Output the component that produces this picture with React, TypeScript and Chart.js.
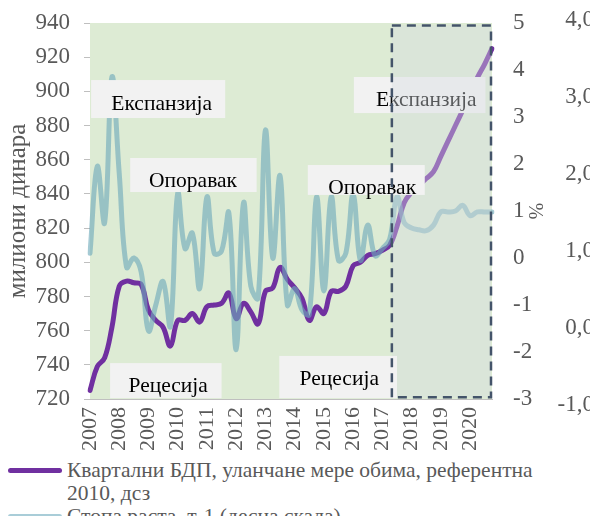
import React, { useEffect, useRef } from 'react';
import { Chart, registerables } from 'chart.js';

Chart.register(...registerables);

// ---------- data ----------
const years = ['2007', '2008', '2009', '2010', '2011', '2012', '2013', '2014', '2015', '2016', '2017', '2018', '2019', '2020'];
const quarterNames = ['Q1', 'Q2', 'Q3', 'Q4'];
const quarterLabels = years.flatMap((y) => quarterNames.map((q) => `${y} ${q}`));

// Quarterly GDP, chained volume, ref. 2010, s.a. (million dinars) - left axis
const gdpValues = [
  725, 739, 744, 762,
  786, 789, 788, 787,
  772, 766, 762, 751,
  766, 766, 770, 765,
  774, 775, 776, 782,
  767, 776, 771, 764,
  783, 785, 797, 790,
  785, 779, 766, 774,
  770, 783, 783, 786,
  798, 800, 804, 805,
  807, 810, 821, 835,
  841, 845, 849, 853,
  862, 871, 880, 889,
  898, 908, 916, 925,
];

// Growth rate q-o-q (%) - right axis
const growthRates = [
  0.1, 1.95, 0.75, 3.85,
  1.8, -0.2, 0.0, -0.3,
  -1.55, -1.0, -0.5, -1.45,
  1.38, 0.2, 0.53, -0.65,
  1.3, 0.1, 0.15, 0.96,
  -1.95, 1.17, -0.6, -0.85,
  2.72, 0.0, 1.75, -1.0,
  -0.65, -1.1, -1.2, 1.3,
  -0.7, 1.3, -0.05, 0.1,
  1.35, -0.05, 0.7, 0.05,
  0.2, 0.4, 1.3, 0.75,
  0.64, 0.6, 0.58, 0.7,
  0.98, 0.98, 1.0, 1.12,
  0.9, 0.98, 0.98, 0.98,
];

const seriesNames = ['Квартални БДП, уланчане мере обима, референтна', '2010, дсз', 'Стопа раста, т-1 (десна скала)'];
const leftAxisTitle = 'милиони динара';
const rightAxisTitle = '%';
// far-right secondary scale (ticks -1,0 ... 4,0); its range runs slightly past the plot
const farRightTicks = [-1, 0, 1, 2, 3, 4];
const farRightMin = -0.92;
const farRightMax = 3.96;

// phase labels: box [x0,x1] in quarter index, [y0,y1] in left-axis value, text anchor
const phaseTexts = ['Експанзија', 'Опоравак', 'Рецесија', 'Рецесија', 'Опоравак', 'Експанзија'];
const phaseBoxX = [[0.15, 18.5], [5.5, 22.8], [2.75, 18.0], [25.9, 42.0], [29.8, 45.8], [36.1, 54.1]];
const phaseBoxY = [[884.4, 906.6], [841.1, 861], [720.5, 741], [720.5, 745.2], [839.4, 856.9], [887.3, 908.4]];
const phaseTextPos = [[9.8, 892.6], [14.1, 847.6], [10.7, 727.6], [34.1, 731.7], [38.6, 843.5], [46.0, 895]];
const phaseUnderForecast = [false, false, false, false, false, true];

// forecast region (quarter index range, left-axis value range)
const forecastX = [41.3, 55.3];
const forecastY = [721, 938.5];

// ---------- styles ----------
const SERIF = "'Liberation Serif', 'Times New Roman', serif";
const PURPLE = '#7030a0';
const TEAL = 'rgba(110,170,185,0.62)';
const TEAL_LEGEND = '#a9cdd8';
const GREEN_BG = '#ddebd4';
const AXIS_TEXT = '#595959';

const phasePlugin = {
  id: 'phasePlugin',
  beforeDatasetsDraw(chart: any) {
    const { ctx, chartArea } = chart;
    ctx.save();
    ctx.fillStyle = GREEN_BG;
    ctx.fillRect(chartArea.left, chartArea.top, chartArea.right - chartArea.left, chartArea.bottom - chartArea.top);
    ctx.restore();
  },
  afterDatasetsDraw(chart: any) {
    const { ctx } = chart;
    const xs = chart.scales.x;
    const ys = chart.scales.y;
    const drawLabel = (i: number) => {
      const x0 = xs.getPixelForValue(phaseBoxX[i][0]);
      const x1 = xs.getPixelForValue(phaseBoxX[i][1]);
      const y0 = ys.getPixelForValue(phaseBoxY[i][1]);
      const y1 = ys.getPixelForValue(phaseBoxY[i][0]);
      ctx.save();
      ctx.fillStyle = '#f2f2f2';
      ctx.fillRect(x0, y0, x1 - x0, y1 - y0);
      ctx.fillStyle = '#000';
      ctx.font = `21.5px ${SERIF}`;
      ctx.textAlign = 'center';
      ctx.textBaseline = 'middle';
      ctx.fillText(phaseTexts[i], xs.getPixelForValue(phaseTextPos[i][0]), ys.getPixelForValue(phaseTextPos[i][1]));
      ctx.restore();
    };
    phaseTexts.forEach((_, i) => { if (phaseUnderForecast[i]) drawLabel(i); });

    const fx0 = xs.getPixelForValue(forecastX[0]);
    const fx1 = Math.min(xs.getPixelForValue(forecastX[1]), chart.chartArea.right - 1);
    const fy0 = ys.getPixelForValue(forecastY[1]);
    const fy1 = ys.getPixelForValue(forecastY[0]);
    ctx.save();
    ctx.fillStyle = 'rgba(216,221,224,0.4)';
    ctx.fillRect(fx0, fy0, fx1 - fx0, fy1 - fy0);
    ctx.restore();

    phaseTexts.forEach((_, i) => { if (!phaseUnderForecast[i]) drawLabel(i); });

    ctx.save();
    ctx.strokeStyle = '#44546a';
    ctx.lineWidth = 2.5;
    ctx.setLineDash([9, 6]);
    ctx.strokeRect(fx0, fy0, fx1 - fx0, fy1 - fy0);
    ctx.restore();
  },
  afterDraw(chart: any) {
    // far-right secondary scale labels
    const { ctx } = chart;
    const s2 = chart.scales.y2;
    ctx.save();
    ctx.fillStyle = AXIS_TEXT;
    ctx.font = `23px ${SERIF}`;
    ctx.textAlign = 'right';
    ctx.textBaseline = 'middle';
    farRightTicks.forEach((v) => {
      ctx.fillText(v.toFixed(1).replace('.', ','), chart.width - 4, s2.getPixelForValue(v));
    });
    ctx.restore();
  },
};

function GdpChart() {
  const ref = useRef<HTMLCanvasElement | null>(null);
  useEffect(() => {
    if (!ref.current) return;
    const chart = new Chart(ref.current, {
      type: 'line',
      data: {
        labels: quarterLabels,
        datasets: [
          {
            label: seriesNames[0] + ' ' + seriesNames[1],
            data: gdpValues,
            yAxisID: 'y',
            borderColor: PURPLE,
            borderWidth: 5,
            pointRadius: 0,
            tension: 0.4,
            borderCapStyle: 'round',
            order: 1,
          },
          {
            label: seriesNames[2],
            data: growthRates,
            yAxisID: 'y1',
            borderColor: TEAL,
            borderWidth: 5,
            pointRadius: 0,
            tension: 0.4,
            borderCapStyle: 'round',
            order: 0,
          },
        ],
      },
      options: {
        responsive: false,
        animation: false,
        devicePixelRatio: 1,
        layout: { padding: { top: 23, right: 52, left: 0, bottom: 0 } },
        plugins: { legend: { display: false }, tooltip: { enabled: false } },
        scales: {
          x: {
            type: 'category',
            offset: false,
            grid: { display: false, drawTicks: false },
            border: { display: true, color: '#bfbfbf', width: 1 },
            ticks: {
              autoSkip: false,
              minRotation: 90,
              maxRotation: 90,
              padding: 8,
              color: AXIS_TEXT,
              font: { family: SERIF, size: 22 },
              callback: (_v: any, i: number) => (i % 4 === 0 ? years[i / 4] : ''),
            },
            afterFit: (s: any) => { s.height = 56; },
          },
          y: {
            type: 'linear',
            position: 'left',
            min: 720,
            max: 940,
            grid: { display: true, drawOnChartArea: false, drawTicks: true, tickLength: 6, color: '#bfbfbf' },
            border: { display: true, color: '#bfbfbf', width: 1 },
            ticks: { stepSize: 20, padding: 14, color: AXIS_TEXT, font: { family: SERIF, size: 23, lineHeight: 0.7 } },
            title: { display: true, text: leftAxisTitle, color: AXIS_TEXT, font: { family: SERIF, size: 25 }, padding: { top: 3, bottom: 0 } },
            afterFit: (s: any) => { s.width = 90; },
          },
          y1: {
            type: 'linear',
            position: 'right',
            min: -3,
            max: 5,
            grid: { display: false, drawTicks: true, tickLength: 21 },
            border: { display: false },
            ticks: { stepSize: 1, padding: 0, color: AXIS_TEXT, font: { family: SERIF, size: 23, lineHeight: 0.7 } },
            title: { display: true, text: rightAxisTitle, color: AXIS_TEXT, font: { family: SERIF, size: 20 }, padding: { top: 0, bottom: 0 } },
            afterFit: (s: any) => { s.width = 54; },
          },
          y2: {
            type: 'linear',
            display: false,
            position: 'right',
            min: farRightMin,
            max: farRightMax,
          },
        },
      } as any,
      plugins: [phasePlugin],
    });
    return () => chart.destroy();
  }, []);
  return <canvas ref={ref} width={598} height={455} style={{ display: 'block', width: 598, height: 455 }} />;
}

export default function App() {
  const legendText: React.CSSProperties = { fontFamily: SERIF, fontSize: 21.5, color: AXIS_TEXT, lineHeight: '23px', whiteSpace: 'nowrap' };
  const swatch = (color: string): React.CSSProperties => ({ position: 'absolute', left: 8, width: 54, height: 5, borderRadius: 3, background: color });
  return (
    <div style={{ position: 'relative', width: 598, height: 524, margin: -8, background: '#fff', overflow: 'hidden' }}>
      <GdpChart />
      <div style={{ position: 'absolute', top: 459, left: 0, width: 598 }}>
        <div style={{ position: 'relative', height: 46 }}>
          <div style={{ ...swatch(PURPLE), top: 9 }} />
          <div style={{ ...legendText, position: 'absolute', left: 67, top: 0 }}>
            {seriesNames[0]}<br />{seriesNames[1]}
          </div>
        </div>
        <div style={{ position: 'relative', height: 23 }}>
          <div style={{ ...swatch(TEAL_LEGEND), top: 9 }} />
          <div style={{ ...legendText, position: 'absolute', left: 67, top: 0 }}>{seriesNames[2]}</div>
        </div>
      </div>
    </div>
  );
}
